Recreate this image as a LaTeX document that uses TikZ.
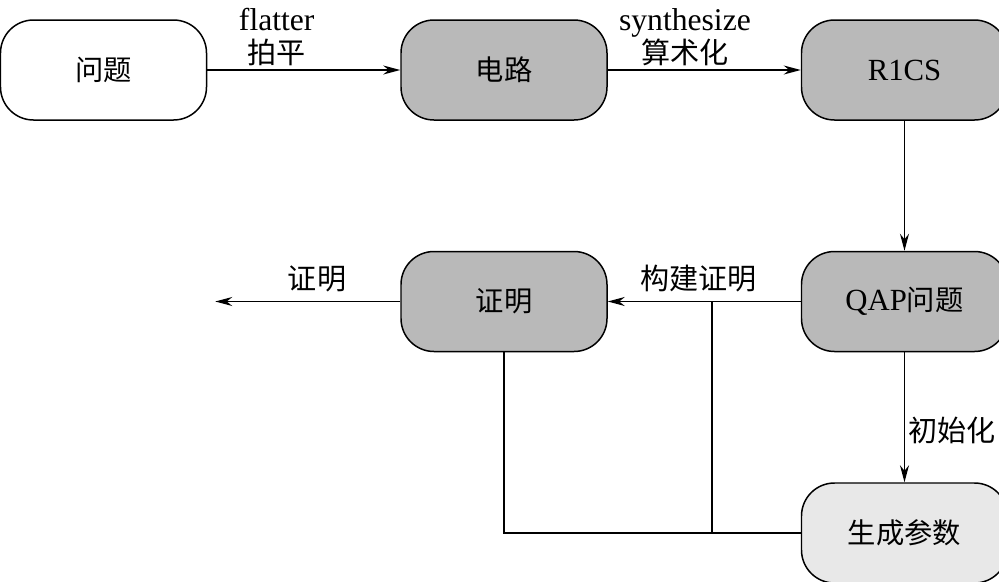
\documentclass[tikz,border=0pt]{standalone}
\usepackage{fontspec}
\setmainfont{Liberation Serif}
\newfontfamily\cjk{Noto Sans CJK SC}[Scale=0.92]
\usetikzlibrary{arrows.meta,positioning}
\tikzset{
  box/.style={rectangle, draw, rounded corners=0.66cm, minimum width=4.12cm, minimum height=2cm, inner sep=0pt, align=center, font=\fontsize{17.5}{19}\selectfont, line width=0.85pt},
  plain/.style={box, fill=white},
  dark/.style={box, fill=gray!55},
  light/.style={box, fill=gray!18},
  lbl/.style={font=\fontsize{18}{19}\selectfont, align=center, inner sep=2pt},
  arr/.style={-{Stealth[length=3.4mm, width=1.8mm]}, line width=0.85pt},
  wire/.style={line width=0.85pt}
}

\begin{document}
\begin{tikzpicture}[node distance=2.6cm and 3.86cm]
\useasboundingbox (0,0) rectangle (19.98,-11.62);
\node[plain] (prob) at (2.07,-1.4) {\cjk 问题};
\node[dark, right=of prob] (circ) {\cjk 电路};
\node[dark, right=of circ] (rics) {R1CS};
\node[dark, below=of rics] (qap) {QAP{\cjk 问题}};
\node[dark, left=of qap] (prf) {\cjk 证明};
\node[light, below=of qap] (param) {\cjk 生成参数};
\coordinate[left=3.7cm of prf.west] (out);

\draw[arr] (prob) -- node[lbl, above, pos=0.36] {flatter\\{\cjk 拍平}} (circ);
\draw[arr] (circ) -- node[lbl, above, pos=0.4] {synthesize\\{\cjk 算术化}} (rics);
\draw[arr] (rics) -- (qap);
\draw[arr] (qap) -- node[lbl, above=3pt, pos=0.53] {\cjk 构建证明} coordinate[pos=0.46] (split) (prf);
\draw[arr] (prf) -- node[lbl, above=3pt, pos=0.45] {\cjk 证明} (out);
\draw[arr] (qap) -- node[lbl, right=0pt, pos=0.6] {\cjk 初始化} (param);
\draw[wire] (prf.south) |- (param.west);
\draw[wire] (split) -- (split |- param.west);
\end{tikzpicture}
\end{document}
